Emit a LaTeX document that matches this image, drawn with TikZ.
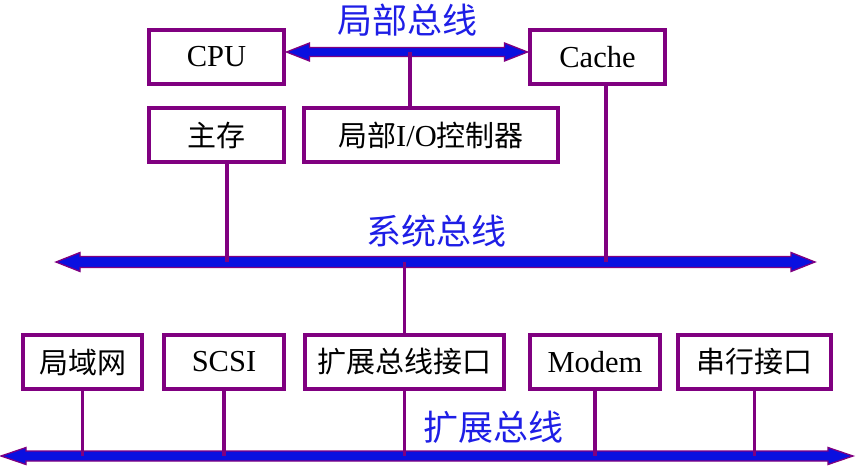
\documentclass[tikz,border=0pt]{standalone}
\usepackage{fontspec}
\setmainfont{Liberation Serif}
\newfontfamily\cjk{Noto Sans CJK SC}
\definecolor{bpurple}{RGB}{128,0,128}
\definecolor{busblue}{RGB}{10,16,224}
\definecolor{lblblue}{RGB}{30,30,230}
\newcommand\busarrow[6]{% x1, x2, y, shaft half, head half, head length
  \filldraw[fill=busblue,draw=bpurple,line width=1.3pt,line join=miter]
    (#1,#3) -- ({#1+#6},{#3-#5}) -- ({#1+#6},{#3-#4}) -- ({#2-#6},{#3-#4})
    -- ({#2-#6},{#3-#5}) -- (#2,#3) -- ({#2-#6},{#3+#5}) -- ({#2-#6},{#3+#4})
    -- ({#1+#6},{#3+#4}) -- ({#1+#6},{#3+#5}) -- cycle;}
\begin{document}
\begin{tikzpicture}[x=1pt,y=-1pt,
  box/.style={draw=bpurple,line width=4pt,minimum height=54pt,inner sep=0pt,
    font=\fontsize{30.5}{32}\selectfont},
  link/.style={draw=bpurple,line width=3.8pt},
  buslabel/.style={text=lblblue,font=\cjk\fontsize{35}{37}\selectfont,inner sep=0pt}]
\useasboundingbox (0,0) rectangle (859,474);
% boxes
\node[box,minimum width=135pt] (cpu) at (216.5,57) {CPU};
\node[box,minimum width=135pt] (cache) at (597.5,57) {Cache};
\node[box,minimum width=135pt] (mem) at (216.5,135) {\cjk\fontsize{29}{31}\selectfont 主存};
\node[box,minimum width=254pt] (io) at (431,135) {{\cjk\fontsize{29}{31}\selectfont 局部}I/O{\cjk\fontsize{29}{31}\selectfont 控制器}};
\node[box,minimum width=119pt] (lan) at (82.5,362) {\cjk\fontsize{29}{31}\selectfont 局域网};
\node[box,minimum width=120pt] (scsi) at (224,362) {SCSI};
\node[box,minimum width=199pt] (ext) at (404.5,362) {\cjk\fontsize{29}{31}\selectfont 扩展总线接口};
\node[box,minimum width=130pt] (modem) at (595,362) {Modem};
\node[box,minimum width=153pt] (serial) at (754.5,362) {\cjk\fontsize{29}{31}\selectfont 串行接口};
% bus labels
\node[buslabel] (llbl) at (407,20) {局部总线};
\node[buslabel] (slbl) at (436,231) {系统总线};
\node[buslabel] (elbl) at (493,427) {扩展总线};
% buses
\busarrow{286.5}{527.5}{52}{4.5}{9}{23}
\busarrow{56}{815}{262}{5.5}{9.5}{24}
\busarrow{1}{853}{456}{5}{8.5}{25}
% bus tap coordinates
\coordinate (lb) at (410,52);
\coordinate (sbmem) at (227,262);
\coordinate (sbcache) at (606,262);
\coordinate (sbext) at (404.5,262);
\coordinate (eb) at (0,456);
% connectors
\draw[link] (sbmem |- mem.south) -- (sbmem);
\draw[link] (lb) -- (lb |- io.north);
\draw[link] (sbcache |- cache.south) -- (sbcache);
\draw[link] (sbext) -- (ext.north);
\draw[link] (lan.south) -- (lan.south |- eb);
\draw[link] (scsi.south) -- (scsi.south |- eb);
\draw[link] (ext.south) -- (ext.south |- eb);
\draw[link] (modem.south) -- (modem.south |- eb);
\draw[link] (serial.south) -- (serial.south |- eb);
\end{tikzpicture}
\end{document}
